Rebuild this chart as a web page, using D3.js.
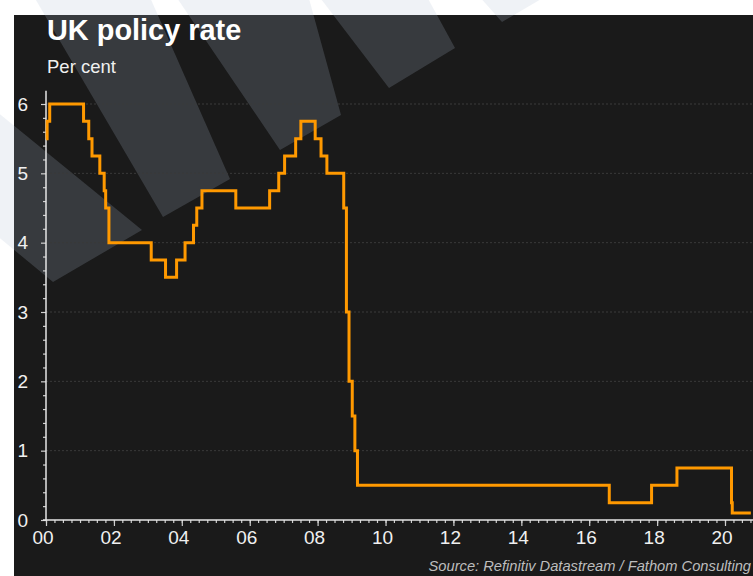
<!DOCTYPE html>
<html>
<head>
<meta charset="utf-8">
<script src="https://cdn.jsdelivr.net/npm/d3@7"></script>
<style>
  html, body { margin: 0; padding: 0; background: #ffffff; }
  svg { display: block; font-family: "Liberation Sans", Arial, sans-serif; }
</style>
</head>
<body>
<svg id="chart" width="753" height="576"></svg>
<script>
// ---- Data ----
const changeDates = ["2000-01-01","2000-01-13","2000-02-10","2001-02-08","2001-04-05","2001-05-10","2001-08-02","2001-09-18","2001-10-04","2001-11-08","2003-02-06","2003-07-10","2003-11-06","2004-02-05","2004-05-06","2004-06-10","2004-08-05","2005-08-04","2006-08-03","2006-11-09","2007-01-11","2007-05-10","2007-07-05","2007-12-06","2008-02-07","2008-04-10","2008-10-08","2008-11-06","2008-12-04","2009-01-08","2009-02-05","2009-03-05","2016-08-04","2017-11-02","2018-08-02","2020-03-11","2020-03-19","2020-10-05"];
const rates = [5.5,5.75,6.0,5.75,5.5,5.25,5.0,4.75,4.5,4.0,3.75,3.5,3.75,4.0,4.25,4.5,4.75,4.5,4.75,5.0,5.25,5.5,5.75,5.5,5.25,5.0,4.5,3.0,2.0,1.5,1.0,0.5,0.25,0.5,0.75,0.25,0.1,0.1];
const yMajorTicks = [0,1,2,3,4,5,6];
const xTickYears = ["2000","2002","2004","2006","2008","2010","2012","2014","2016","2018","2020"];
const titleText = "UK policy rate";
const subtitleText = "Per cent";
const sourceText = "Source: Refinitiv Datastream / Fathom Consulting";

// ---- Setup ----
const W = 753, H = 576;
const svg = d3.select("#chart");
const parse = d3.timeParse("%Y-%m-%d");
const data = changeDates.map((d, i) => ({ date: parse(d), value: rates[i] }));

const x = d3.scaleTime().domain([new Date(2000,0,1), new Date(2020,0,1)]).range([46, 725]);
const y = d3.scaleLinear().domain([0, 6]).range([520, 104]);

// panel
svg.append("rect").attr("x", 14).attr("y", 15).attr("width", W - 14).attr("height", H - 15).attr("fill", "#1a1a1a");

// watermark shapes (semi-transparent)
const marks = [
  [[-10,106],[142,230],[53,282],[-10,230]],
  [[33,-5],[149,-5],[230,179],[163,217]],
  [[175,-5],[308,-5],[341,115],[280,150]],
  [[318,-5],[426,-5],[455,48],[389,88]],
  [[478,-5],[548,-5],[502,22]]
];
svg.append("g").selectAll("polygon").data(marks).join("polygon")
  .attr("points", d => d.map(p => p.join(",")).join(" "))
  .attr("fill", "rgb(174,192,211)").attr("fill-opacity", 0.2);

// grid lines
svg.append("g").selectAll("line").data(yMajorTicks.filter(v => v > 0)).join("line")
  .attr("x1", x(new Date(2000,0,1))).attr("x2", W)
  .attr("y1", d => y(d)).attr("y2", d => y(d))
  .attr("stroke", "#3a3a3a").attr("stroke-width", 1).attr("stroke-dasharray", "2,2");

// Y axis
const x0 = x(new Date(2000,0,1));
const yMinor = d3.range(0, 6.001, 0.2).map(v => +v.toFixed(1)).filter(v => !yMajorTicks.includes(v));
const gyMinor = svg.append("g").attr("transform", `translate(${x0},0)`)
  .call(d3.axisLeft(y).tickValues(yMinor).tickSize(3).tickFormat(""));
const gy = svg.append("g").attr("transform", `translate(${x0},0)`)
  .call(d3.axisLeft(y).tickValues(yMajorTicks).tickSize(5).tickPadding(13).tickFormat(d3.format("d")));
[gyMinor, gy].forEach(g => {
  g.select(".domain").remove();
  g.selectAll("line").attr("stroke", "#d0d0d0").attr("stroke-width", 1.2);
});
gy.selectAll("text").attr("fill", "#f0f0f0").style("font-size", "19px");
svg.append("line").attr("x1", x0).attr("x2", x0).attr("y1", y(6.19)).attr("y2", y(0))
  .attr("stroke", "#e6e6e6").attr("stroke-width", 1.5);

// X axis
const endDate = x.invert(W);
const xMinor = d3.timeMonth.every(3).range(new Date(2000,0,1), endDate);
const xMajor = xTickYears.map(s => new Date(+s, 0, 1));
const gxMinor = svg.append("g").attr("transform", `translate(0,${y(0)})`)
  .call(d3.axisBottom(x).tickValues(xMinor).tickSize(3).tickFormat(""));
const gx = svg.append("g").attr("transform", `translate(0,${y(0)})`)
  .call(d3.axisBottom(x).tickValues(xMajor).tickSize(6).tickPadding(4.5).tickFormat(d3.timeFormat("%y")));
[gxMinor, gx].forEach(g => {
  g.select(".domain").remove();
  g.selectAll("line").attr("stroke", "#d0d0d0").attr("stroke-width", 1.2);
});
gx.selectAll("text").attr("fill", "#f0f0f0").style("font-size", "19px").attr("dx", -3.5);
svg.append("line").attr("x1", x0 - 3).attr("x2", W).attr("y1", y(0)).attr("y2", y(0))
  .attr("stroke", "#e6e6e6").attr("stroke-width", 1.5);

// rate line
const line = d3.line().x(d => x(d.date)).y(d => y(d.value)).curve(d3.curveStepAfter);
svg.append("path").datum(data).attr("d", line)
  .attr("fill", "none").attr("stroke", "#ff9900").attr("stroke-width", 3).attr("stroke-linejoin", "miter");

// Titles
svg.append("text").attr("x", 47).attr("y", 40).text(titleText)
  .attr("fill", "#ffffff").style("font-size", "28.9px").style("font-weight", "bold");
svg.append("text").attr("x", 47).attr("y", 73).text(subtitleText)
  .attr("fill", "#f0f0f0").style("font-size", "18.5px");
svg.append("text").attr("x", 751).attr("y", 571).attr("text-anchor", "end").text(sourceText)
  .attr("fill", "#bdbdbd").style("font-size", "14.7px").style("font-style", "italic");
</script>
</body>
</html>
